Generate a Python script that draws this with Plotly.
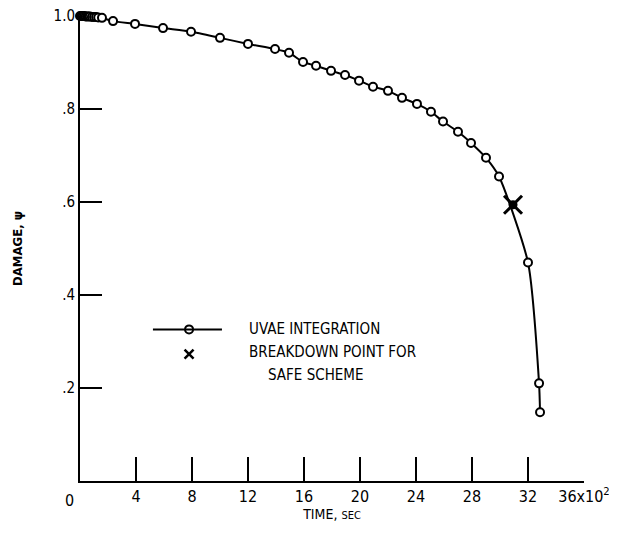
import plotly.graph_objects as go

# time in units of 100 sec, damage psi
time_h = [0.0, 0.1, 0.2, 0.3, 0.4, 0.5, 0.6, 0.7, 0.85, 1.0, 1.15, 1.3,
          1.57, 2.36, 3.93, 5.93, 7.93, 10.0, 12.0, 13.93, 14.93, 15.93, 16.86,
          17.93, 18.93, 19.93, 20.93, 22.0, 23.0, 24.07, 25.07, 25.93, 27.0,
          27.93, 29.0, 29.93, 32.0, 32.79, 32.86]
damage = [1.0, 1.0, 1.0, 1.0, 0.999, 0.999, 0.999, 0.999, 0.998, 0.998, 0.998, 0.997,
          0.996, 0.989, 0.983, 0.974, 0.966, 0.953, 0.940, 0.929, 0.921, 0.901, 0.893,
          0.882, 0.873, 0.861, 0.848, 0.839, 0.824, 0.811, 0.794, 0.773, 0.751,
          0.727, 0.695, 0.655, 0.470, 0.210, 0.148]

breakdown_t = [30.93]
breakdown_psi = [0.594]

x_ticks = [4, 8, 12, 16, 20, 24, 28, 32, 36]
x_ticktext = ["4", "8", "12", "16", "20", "24", "28", "32", "36x10<sup>2</sup>"]
y_ticks = [0.2, 0.4, 0.6, 0.8, 1.0]
y_ticktext = [".2", ".4", ".6", ".8", "1.0"]

FONT = "DejaVu Sans Condensed, Liberation Sans Narrow, sans-serif"

fig = go.Figure()
fig.add_trace(go.Scatter(
    x=time_h, y=damage, mode="lines+markers",
    line=dict(color="black", width=2, shape="spline", smoothing=0.6),
    marker=dict(symbol="circle", size=8, color="white", line=dict(color="black", width=2)),
    cliponaxis=False, showlegend=False))
fig.add_trace(go.Scatter(
    x=breakdown_t, y=breakdown_psi, mode="markers",
    marker=dict(symbol="circle", size=9, color="black"),
    cliponaxis=False, showlegend=False))
fig.add_trace(go.Scatter(
    x=breakdown_t, y=breakdown_psi, mode="markers",
    marker=dict(symbol="x-thin", size=18, color="black", line=dict(color="black", width=3)),
    cliponaxis=False, showlegend=False))

# legend drawn by hand
fig.add_shape(type="line", x0=5.21, x1=10.14, y0=0.326, y1=0.326,
              xref="x", yref="y", line=dict(color="black", width=2))
fig.add_trace(go.Scatter(
    x=[7.79], y=[0.326], mode="markers",
    marker=dict(symbol="circle", size=8, color="white", line=dict(color="black", width=2)),
    showlegend=False, hoverinfo="skip"))
fig.add_trace(go.Scatter(
    x=[7.79], y=[0.273], mode="markers",
    marker=dict(symbol="x-thin", size=9, color="black", line=dict(color="black", width=2.5)),
    showlegend=False, hoverinfo="skip"))

ann_font = dict(family=FONT, size=15, color="black")
fig.add_annotation(x=11.93, y=0.326, text="UVAE INTEGRATION", showarrow=False,
                   xanchor="left", yanchor="middle", font=ann_font)
fig.add_annotation(x=11.93, y=0.277, text="BREAKDOWN POINT FOR", showarrow=False,
                   xanchor="left", yanchor="middle", font=ann_font)
fig.add_annotation(x=13.3, y=0.227, text="SAFE SCHEME", showarrow=False,
                   xanchor="left", yanchor="middle", font=ann_font)
# shared origin label
fig.add_annotation(x=0, y=0, text="0", showarrow=False, xanchor="center", yanchor="middle",
                   xshift=-11, yshift=-19, font=dict(family=FONT, size=16, color="black"))

# page body has an 8px margin: offset the figure margins to compensate
fig.update_layout(
    width=617, height=537,
    margin=dict(l=72, r=41, t=8, b=64),
    paper_bgcolor="white", plot_bgcolor="white",
    font=dict(family=FONT, size=16, color="black"),
    showlegend=False,
)
fig.update_xaxes(
    range=[0, 36], showgrid=False, zeroline=False, automargin=False,
    showline=True, linecolor="black", linewidth=2,
    tickmode="array", tickvals=x_ticks, ticktext=x_ticktext,
    ticks="inside", ticklen=24, tickwidth=2, tickcolor="black",
    tickfont=dict(family=FONT, size=16), ticklabeloverflow="allow",
    title=dict(text="TIME, <span style='font-size:11px'>SEC</span>", standoff=4,
               font=dict(family=FONT, size=14)),
)
fig.update_yaxes(
    range=[0, 1.0], showgrid=False, zeroline=False, automargin=False,
    showline=True, linecolor="black", linewidth=2,
    tickmode="array", tickvals=y_ticks, ticktext=y_ticktext,
    ticks="inside", ticklen=22, tickwidth=2, tickcolor="black",
    tickfont=dict(family=FONT, size=15), ticklabeloverflow="allow",
    title=dict(text="<b>DAMAGE, ψ</b>", standoff=28, font=dict(family=FONT, size=13)),
)

fig.write_html("out.html")
